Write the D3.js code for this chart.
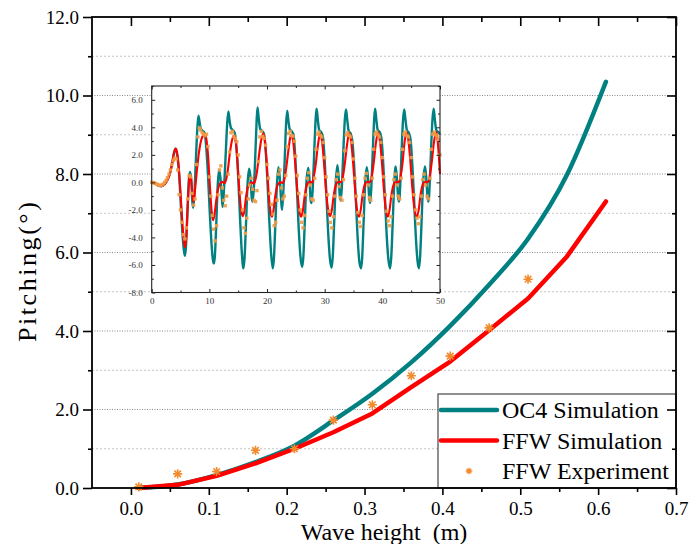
<!DOCTYPE html>
<html>
<head>
<meta charset="utf-8">
<script src="https://cdn.jsdelivr.net/npm/d3@7"></script>
<style>
  body { margin: 0; background: #fff; }
  text { font-family: "Liberation Serif", "Times New Roman", serif; }
</style>
</head>
<body>
<div id="chart"></div>
<script>
// ---- main chart: pitching vs wave height
const waveHeight = [0.01, 0.06, 0.11, 0.16, 0.21, 0.26, 0.31, 0.36, 0.41, 0.46, 0.51, 0.56, 0.61];
const oc4Pitch   = [0.0, 0.09, 0.33, 0.66, 1.08, 1.72, 2.4, 3.2, 4.13, 5.18, 6.35, 7.98, 10.35];
const ffwPitch   = [0.0, 0.08, 0.31, 0.63, 1.0, 1.42, 1.9, 2.57, 3.22, 4.02, 4.83, 5.9, 7.3];
const expHeight  = [0.01, 0.06, 0.11, 0.16, 0.21, 0.26, 0.31, 0.36, 0.41, 0.46, 0.51];
const expPitch   = [0.03, 0.36, 0.42, 0.96, 1.0, 1.73, 2.12, 2.86, 3.36, 4.08, 5.32];
const xTicks = [0, 0.1, 0.2, 0.3, 0.4, 0.5, 0.6, 0.7];
const xMinor = [0.05, 0.15, 0.25, 0.35, 0.45, 0.55, 0.65];
const yTicks = [0, 2, 4, 6, 8, 10, 12];
const yMinor = [1, 3, 5, 7, 9, 11];
const seriesNames = ["OC4 Simulation", "FFW Simulation", "FFW Experiment"];

// ---- inset: time history (s, deg)
const insetOC4 = [
  [0,0],[0.6,-0.08],[1.2,-0.25],[1.7,-0.28],[2.2,-0.15],[2.7,0.15],[3.2,0.7],[3.6,1.5],[3.9,2.2],[4.15,2.45],
  [4.45,1.9],[4.75,0.6],[5.05,-1.6],[5.35,-3.8],[5.6,-5.0],[5.78,-5.35],[5.95,-4.6],[6.2,-2.0],[6.45,0.2],[6.65,0.75],
  [6.85,0.2],[7.05,-1.4],[7.2,-1.85],[7.4,-0.9],[7.65,1.5],[7.9,3.8],[8.1,4.85],[8.3,4.4],[8.5,3.9],[8.8,3.75],
  [9.15,3.6],[9.45,2.6],[9.75,0.6],[10.05,-2.0],[10.35,-4.3],[10.6,-5.6],[10.78,-5.9],[10.95,-5.4],[11.2,-3.0],[11.45,-0.2],
  [11.7,0.9],[11.9,0.4],[12.15,-1.0],[12.3,-1.8],[12.55,-0.4],[12.85,2.2],[13.1,4.3],[13.3,5.15],[13.5,4.5],[13.75,3.95],
  [14.05,3.8],[14.4,3.6],[14.7,2.5],[15.0,0.4],[15.3,-2.4],[15.6,-4.9],[15.9,-6.25],[16.1,-5.5],[16.35,-3.1],[16.6,-0.3],
  [16.9,1.0],[17.1,0.5],[17.35,-1.1],[17.5,-1.4],[17.75,-0.2],[18.0,2.3],[18.2,4.5],[18.35,5.45],[18.55,4.7],[18.8,3.9],
  [19.1,3.75],[19.45,3.55],[19.75,2.4],[20.05,0.3],[20.35,-2.4],[20.7,-5.1],[21.0,-6.25],[21.2,-5.5],[21.45,-3.0],[21.7,-0.3],
  [21.98,1.1],[22.2,0.4],[22.45,-1.3],[22.6,-2.0],[22.85,-0.5],[23.1,2.0],[23.3,4.2],[23.5,5.2],[23.7,4.5],[23.95,3.85],
  [24.3,3.7],[24.6,3.45],[24.9,1.8],[25.2,-0.6],[25.5,-3.4],[25.8,-5.4],[26.1,-6.15],[26.3,-5.4],[26.55,-2.9],[26.8,-0.2],
  [27.15,1.05],[27.35,0.3],[27.6,-1.4],[27.75,-1.5],[28.0,0.2],[28.25,2.9],[28.45,4.7],[28.6,5.35],[28.8,4.6],[29.05,3.8],
  [29.4,3.65],[29.7,3.3],[30.0,1.6],[30.3,-0.9],[30.6,-3.6],[30.9,-5.5],[31.2,-6.2],[31.4,-5.4],[31.65,-2.9],[31.9,-0.2],
  [32.2,1.25],[32.4,0.5],[32.65,-1.1],[32.8,-1.3],[33.05,0.3],[33.3,2.9],[33.5,4.6],[33.7,5.3],[33.9,4.6],[34.15,3.75],
  [34.5,3.55],[34.8,3.0],[35.1,1.3],[35.4,-1.2],[35.7,-3.9],[36.0,-5.7],[36.3,-6.25],[36.5,-5.5],[36.75,-2.9],[37.0,-0.2],
  [37.3,1.1],[37.5,0.4],[37.75,-1.2],[37.9,-1.5],[38.15,0.2],[38.4,2.9],[38.6,4.7],[38.75,5.35],[38.95,4.6],[39.2,3.8],
  [39.55,3.65],[39.85,3.2],[40.15,1.4],[40.45,-1.1],[40.75,-3.8],[41.05,-5.6],[41.35,-6.25],[41.55,-5.4],[41.8,-2.9],[42.05,-0.2],
  [42.3,1.15],[42.5,0.4],[42.75,-1.1],[42.9,-1.4],[43.15,0.2],[43.4,2.9],[43.6,4.6],[43.8,5.3],[44.0,4.6],[44.25,3.8],
  [44.6,3.6],[44.9,3.1],[45.2,1.3],[45.5,-1.2],[45.8,-3.9],[46.1,-5.7],[46.35,-6.25],[46.55,-5.4],[46.8,-2.9],[47.05,-0.2],
  [47.4,1.15],[47.6,0.4],[47.85,-1.1],[48.0,-1.4],[48.25,0.2],[48.5,2.9],[48.7,4.6],[48.9,5.35],[49.1,4.6],[49.35,3.8],
  [49.7,3.65],[50.0,3.5]
];
const insetFFW = [
  [0,0],[0.6,-0.08],[1.2,-0.25],[1.7,-0.28],[2.2,-0.15],[2.7,0.15],[3.2,0.7],[3.6,1.5],[3.9,2.2],[4.2,2.45],
  [4.5,1.9],[4.8,0.5],[5.1,-1.5],[5.4,-3.4],[5.65,-4.5],[5.82,-4.7],[6.0,-4.0],[6.25,-1.8],[6.5,0.2],[6.7,0.55],
  [6.9,0.0],[7.1,-1.1],[7.25,-1.4],[7.5,-0.6],[7.85,0.9],[8.2,2.2],[8.6,3.1],[9.0,3.45],[9.25,3.5],[9.5,3.1],
  [9.8,1.8],[10.1,-0.3],[10.4,-2.1],[10.65,-2.75],[10.9,-2.3],[11.2,-1.3],[11.5,-0.5],[11.85,-0.1],[12.2,0.05],[12.6,-0.05],
  [12.9,0.2],[13.2,0.9],[13.55,2.1],[13.9,3.0],[14.3,3.4],[14.6,2.9],[14.9,1.4],[15.2,-0.6],[15.5,-2.0],[15.8,-2.45],
  [16.05,-2.1],[16.35,-1.1],[16.65,-0.4],[17.0,-0.1],[17.35,0.0],[17.7,-0.1],[18.0,0.2],[18.3,0.9],[18.65,2.1],[19.0,3.1],
  [19.35,3.55],[19.65,3.0],[19.95,1.4],[20.25,-0.6],[20.55,-2.0],[20.85,-2.5],[21.1,-2.1],[21.4,-1.1],[21.7,-0.35],[22.05,-0.05],
  [22.4,0.0],[22.75,-0.05],[23.05,0.3],[23.35,1.1],[23.7,2.3],[24.0,3.2],[24.2,3.45],[24.5,3.1],[24.85,1.6],[25.2,-0.3],
  [25.55,-1.9],[25.9,-2.5],[26.2,-2.1],[26.5,-1.1],[26.8,-0.35],[27.15,0.0],[27.5,0.05],[27.8,-0.05],[28.1,0.4],[28.45,1.3],
  [28.8,2.6],[29.2,3.55],[29.5,3.1],[29.85,1.6],[30.2,-0.4],[30.6,-2.0],[30.95,-2.45],[31.25,-2.0],[31.55,-1.0],[31.85,-0.3],
  [32.2,0.0],[32.55,0.05],[32.85,0.0],[33.15,0.4],[33.5,1.4],[33.9,2.8],[34.25,3.6],[34.55,3.1],[34.9,1.6],[35.25,-0.4],
  [35.6,-2.0],[35.95,-2.5],[36.25,-2.0],[36.55,-1.0],[36.85,-0.3],[37.2,0.0],[37.55,0.05],[37.85,0.0],[38.15,0.4],[38.5,1.4],
  [38.9,2.9],[39.25,3.65],[39.55,3.1],[39.9,1.6],[40.25,-0.4],[40.6,-2.0],[40.95,-2.5],[41.25,-2.0],[41.55,-1.0],[41.85,-0.3],
  [42.2,0.0],[42.55,0.05],[42.85,0.0],[43.15,0.4],[43.5,1.4],[43.85,2.9],[44.2,3.65],[44.5,3.1],[44.85,1.6],[45.2,-0.4],
  [45.6,-2.0],[46.0,-2.5],[46.3,-2.0],[46.6,-1.0],[46.9,-0.3],[47.25,0.0],[47.6,0.05],[47.9,0.0],[48.2,0.4],[48.55,1.4],
  [48.95,2.9],[49.3,3.65],[49.55,3.2],[49.8,1.9],[50.0,0.6]
];
// experiment, sampled every 0.25 s from t = 0
const insetExpStep = 0.25;
const insetExp = [
  0.0,-0.02,-0.05,-0.1,  -0.15,-0.2,-0.22,-0.2,  -0.12,0.0,0.15,0.35,  0.6,0.9,1.3,1.6,
  1.75,1.7,0.9,-0.9,  -2.0,-2.9,-3.8,-4.1,  -3.3,-1.2,0.5,0.4,  -0.8,-1.65,-1.2,1.3,
  3.3,3.95,3.8,3.6,  3.5,3.4,3.5,2.6,  0.4,-1.0,-2.4,-3.4,  -4.25,-3.15,-0.9,0.9,
  1.2,-0.4,-1.3,-1.7,  -1.0,0.6,2.2,3.6,  3.7,3.35,3.2,2.95,  2.0,0.4,-0.75,-2.0,
  -3.3,-3.7,-2.6,-1.2,  -0.2,0.3,-0.5,-1.3,  -1.4,-0.6,1.5,3.3,  3.7,3.35,3.2,2.7,
  1.3,0.3,-0.8,-1.6,  -2.3,-3.15,-2.9,-1.3,  0.6,0.9,-0.4,-1.2,  -1.0,0.5,2.6,3.55,
  3.7,3.4,3.35,3.0,  1.9,0.5,-0.8,-2.0,  -2.9,-3.3,-2.4,-0.9,  0.3,0.7,-0.2,-1.2,
  -1.3,0.3,2.4,3.5,  3.65,3.4,3.3,2.9,  1.8,0.4,-0.9,-2.1,  -2.9,-3.3,-2.5,-1.0,
  0.2,0.6,-0.3,-1.1,  -1.3,0.2,2.3,3.45,  3.6,3.4,3.3,2.9,  1.7,0.3,-1.0,-2.2,
  -2.9,-3.2,-2.4,-0.9,  0.3,0.65,-0.2,-1.1,  -1.3,0.3,2.4,3.5,  3.65,3.45,3.3,2.9,
  1.8,0.4,-0.9,-2.1,  -2.8,-3.15,-2.5,-1.0,  0.2,0.6,-0.2,-1.0,  -1.2,0.3,2.4,3.5,
  3.65,3.4,3.3,2.9,  1.8,0.4,-0.9,-2.0,  -2.6,-3.0,-2.5,-1.0,  0.2,0.6,-0.2,-1.0,
  -1.2,0.3,2.4,3.5,  3.65,3.45,3.35,3.1,  2.0
];
const insetXTicks = [0, 10, 20, 30, 40, 50];
const insetXMinor = [5, 15, 25, 35, 45];
const insetYTicks = [-8, -6, -4, -2, 0, 2, 4, 6];
const insetYMinor = [-7, -5, -3, -1, 1, 3, 5, 7];

const colOC4 = "#008080", colFFW = "#ff0000", colExp = "#f28a2e";

const W = 689, H = 544;
const margin = {top: 17, right: 13, bottom: 56, left: 92};
const width = W - margin.left - margin.right;
const height = H - margin.top - margin.bottom;

const svg = d3.select("#chart").append("svg")
    .attr("width", W).attr("height", H);
const g = svg.append("g").attr("transform", `translate(${margin.left},${margin.top})`);

const x = d3.scaleLinear().domain([-0.05, 0.7]).range([0, width]);
const y = d3.scaleLinear().domain([0, 12]).range([height, 0]);

// grid lines
g.selectAll(".gridMajor").data(yTicks.filter(d => d > 0 && d < 12)).enter()
    .append("line")
    .attr("x1", 0).attr("x2", width)
    .attr("y1", d => y(d)).attr("y2", d => y(d))
    .attr("stroke", "#8a8a8a").attr("stroke-width", 1).attr("stroke-dasharray", "1,1.5");
g.selectAll(".gridMinor").data(yMinor).enter()
    .append("line")
    .attr("x1", 0).attr("x2", width)
    .attr("y1", d => y(d)).attr("y2", d => y(d))
    .attr("stroke", "#c4c4c4").attr("stroke-width", 1).attr("stroke-dasharray", "2,2");

// star marker (8 arms)
const star8 = {
    draw(ctx, size) {
        const r = Math.sqrt(size) / 2, d = r * Math.SQRT1_2;
        ctx.moveTo(-r, 0); ctx.lineTo(r, 0);
        ctx.moveTo(0, -r); ctx.lineTo(0, r);
        ctx.moveTo(-d, -d); ctx.lineTo(d, d);
        ctx.moveTo(-d, d); ctx.lineTo(d, -d);
    }
};

// main curves
const lineSmooth = d3.line().x(d => x(d[0])).y(d => y(d[1])).curve(d3.curveMonotoneX);
const lineStraight = d3.line().x(d => x(d[0])).y(d => y(d[1]));
g.append("path").datum(d3.zip(waveHeight, oc4Pitch))
    .attr("fill", "none").attr("stroke", colOC4).attr("stroke-width", 4.5)
    .attr("stroke-linecap", "round").attr("stroke-linejoin", "round").attr("d", lineSmooth);
g.append("path").datum(d3.zip(waveHeight, ffwPitch))
    .attr("fill", "none").attr("stroke", colFFW).attr("stroke-width", 4.5)
    .attr("stroke-linecap", "round").attr("stroke-linejoin", "round").attr("d", lineStraight);
g.selectAll(".star").data(d3.zip(expHeight, expPitch)).enter()
    .append("path")
    .attr("transform", d => `translate(${x(d[0])},${y(d[1])})`)
    .attr("d", d3.symbol().type(star8).size(85))
    .attr("fill", "none").attr("stroke", colExp).attr("stroke-width", 1.6);

// ---- inset
const ins = {x0: 151.7 - margin.left, x1: 440 - margin.left, y0: 86 - margin.top, y1: 292.5 - margin.top};
const xi = d3.scaleLinear().domain([0, 50]).range([ins.x0, ins.x1]);
const yi = d3.scaleLinear().domain([-8, 7]).range([ins.y1, ins.y0]);
const gi = g.append("g");
gi.append("rect").attr("x", ins.x0).attr("y", ins.y0)
    .attr("width", ins.x1 - ins.x0).attr("height", ins.y1 - ins.y0).attr("fill", "#fff");

const lineI = d3.line().x(d => xi(d[0])).y(d => yi(d[1])).curve(d3.curveMonotoneX);
gi.append("path").datum(insetOC4).attr("d", lineI)
    .attr("fill", "none").attr("stroke", colOC4).attr("stroke-width", 2.4);
gi.append("path").datum(insetFFW).attr("d", lineI)
    .attr("fill", "none").attr("stroke", colFFW).attr("stroke-width", 2.1);
gi.selectAll(".dot").data(insetExp).enter()
    .append("rect")
    .attr("x", (d, i) => xi(i * insetExpStep) - 1.7)
    .attr("y", d => yi(d) - 1.7)
    .attr("width", 3.4).attr("height", 3.4)
    .attr("fill", "#f39a45").attr("opacity", 0.9);

const fmt1 = d => d.toFixed(1);
function styleInset(sel) {
    sel.select(".domain").remove();
    sel.selectAll(".tick line").attr("stroke", "#222").attr("stroke-width", 1);
    sel.selectAll(".tick text").attr("font-size", 9).attr("fill", "#333");
}
gi.append("g").attr("transform", `translate(${ins.x0},0)`)
    .call(d3.axisLeft(yi).tickValues(insetYTicks).tickFormat(fmt1).tickSizeInner(-3.5).tickSizeOuter(0).tickPadding(9))
    .call(styleInset);
gi.append("g").attr("transform", `translate(${ins.x0},0)`)
    .call(d3.axisLeft(yi).tickValues(insetYMinor).tickFormat("").tickSizeInner(-2).tickSizeOuter(0))
    .call(styleInset);
gi.append("g").attr("transform", `translate(${ins.x1},0)`)
    .call(d3.axisLeft(yi).tickValues(insetYTicks).tickFormat("").tickSizeInner(3.5).tickSizeOuter(0))
    .call(styleInset);
gi.append("g").attr("transform", `translate(${ins.x1},0)`)
    .call(d3.axisLeft(yi).tickValues(insetYMinor).tickFormat("").tickSizeInner(2).tickSizeOuter(0))
    .call(styleInset);
gi.append("g").attr("transform", `translate(0,${ins.y1})`)
    .call(d3.axisBottom(xi).tickValues(insetXTicks).tickFormat(d3.format("d")).tickSizeInner(-3.5).tickSizeOuter(0).tickPadding(5))
    .call(styleInset);
gi.append("g").attr("transform", `translate(0,${ins.y1})`)
    .call(d3.axisBottom(xi).tickValues(insetXMinor).tickFormat("").tickSizeInner(-2).tickSizeOuter(0))
    .call(styleInset);
gi.append("g").attr("transform", `translate(0,${ins.y0})`)
    .call(d3.axisBottom(xi).tickValues(insetXTicks).tickFormat("").tickSizeInner(3.5).tickSizeOuter(0))
    .call(styleInset);
gi.append("g").attr("transform", `translate(0,${ins.y0})`)
    .call(d3.axisBottom(xi).tickValues(insetXMinor).tickFormat("").tickSizeInner(2).tickSizeOuter(0))
    .call(styleInset);
gi.append("rect").attr("x", ins.x0).attr("y", ins.y0)
    .attr("width", ins.x1 - ins.x0).attr("height", ins.y1 - ins.y0)
    .attr("fill", "none").attr("stroke", "#222").attr("stroke-width", 1.1);

// ---- legend
const lg = g.append("g").attr("transform", `translate(${438 - margin.left},${394 - margin.top})`);
lg.append("rect").attr("width", width - (438 - margin.left)).attr("height", height - (394 - margin.top))
    .attr("fill", "#fff").attr("stroke", "#555").attr("stroke-width", 1.3);
seriesNames.forEach((name, i) => {
    const ly = 16 + i * 30.5;
    if (i < 2) {
        lg.append("line").attr("x1", 3).attr("x2", 59).attr("y1", ly).attr("y2", ly)
            .attr("stroke", i === 0 ? colOC4 : colFFW).attr("stroke-width", 4.5).attr("stroke-linecap", "round");
    } else {
        lg.append("path").attr("transform", `translate(31,${ly})`)
            .attr("d", d3.symbol().type(star8).size(45))
            .attr("fill", "none").attr("stroke", colExp).attr("stroke-width", 1.3);
    }
    lg.append("text").attr("x", 64).attr("y", ly + 8)
        .attr("font-size", 24).attr("fill", "#000").text(name);
});

// ---- main axes
function styleMain(sel) {
    sel.select(".domain").remove();
    sel.selectAll(".tick line").attr("stroke", "#000").attr("stroke-width", 1.6);
    sel.selectAll(".tick text").attr("font-size", 19).attr("fill", "#000");
}
g.append("g").call(d3.axisLeft(y).tickValues(yTicks).tickFormat(fmt1).tickSize(9).tickPadding(4)).call(styleMain);
g.append("g").call(d3.axisLeft(y).tickValues(yMinor).tickFormat("").tickSize(4)).call(styleMain);
g.append("g").attr("transform", `translate(${width},0)`)
    .call(d3.axisLeft(y).tickValues(yTicks).tickFormat("").tickSize(9)).call(styleMain);
g.append("g").attr("transform", `translate(${width},0)`)
    .call(d3.axisLeft(y).tickValues(yMinor).tickFormat("").tickSize(4)).call(styleMain);
g.append("g").attr("transform", `translate(0,${height})`)
    .call(d3.axisBottom(x).tickValues(xTicks).tickFormat(fmt1).tickSize(7).tickPadding(7)).call(styleMain);
g.append("g").attr("transform", `translate(0,${height})`)
    .call(d3.axisBottom(x).tickValues(xMinor).tickFormat("").tickSize(4)).call(styleMain);
g.append("g")
    .call(d3.axisBottom(x).tickValues(xTicks).tickFormat("").tickSize(9)).call(styleMain);
g.append("g")
    .call(d3.axisBottom(x).tickValues(xMinor).tickFormat("").tickSize(5)).call(styleMain);
g.append("rect").attr("width", width).attr("height", height)
    .attr("fill", "none").attr("stroke", "#000").attr("stroke-width", 1.8);

// axis titles
g.append("text").attr("x", width / 2).attr("y", height + 52)
    .attr("text-anchor", "middle").attr("font-size", 24)
    .style("white-space", "pre").text("Wave height  (m)");
g.append("text").attr("transform", `translate(${36 - margin.left},${272 - margin.top}) rotate(-90)`)
    .attr("text-anchor", "middle").attr("font-size", 26)
    .attr("textLength", 140).attr("lengthAdjust", "spacing")
    .text("Pitching(°)");
</script>
</body>
</html>
